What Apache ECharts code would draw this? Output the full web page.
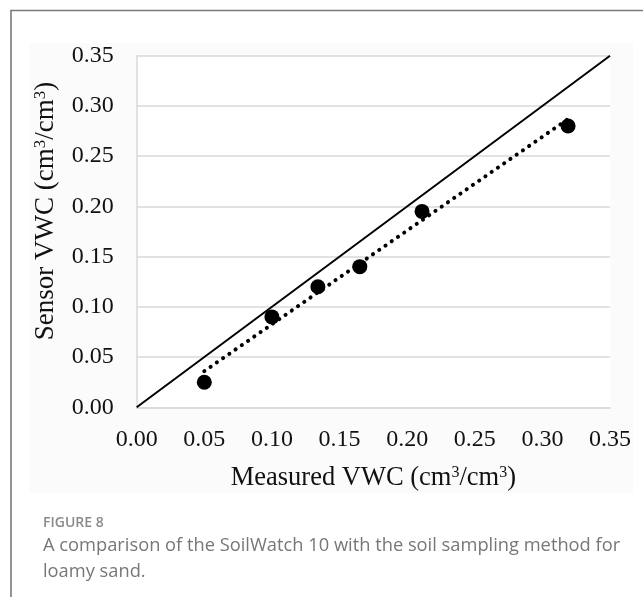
<!DOCTYPE html>
<html>
<head>
<meta charset="utf-8">
<script src="https://cdn.jsdelivr.net/npm/echarts@6/dist/echarts.min.js"></script>
<style>
  html, body { margin: 0; padding: 0; background: #fff; }
  #main { width: 643px; height: 597px; }
</style>
</head>
<body>
<div id="main"></div>
<script>
// measured vs sensor VWC (cm3/cm3)
var measuredVWC = [0.050, 0.100, 0.134, 0.165, 0.211, 0.319];
var sensorVWC   = [0.025, 0.090, 0.120, 0.140, 0.195, 0.280];

// 1:1 line and the dotted linear trendline (end points)
var oneToOneX = [0, 0.35];
var oneToOneY = [0, 0.35];
var trendX = [0.050, 0.319];
var trendY = [0.036, 0.287];

var tickValues = [0, 0.05, 0.10, 0.15, 0.20, 0.25, 0.30, 0.35];

var xTitle = 'Measured VWC (cm{s|3}/cm{s|3})';
var yTitle = 'Sensor VWC (cm{s|3}/cm{s|3})';
var captionLabel = 'FIGURE 8';
var captionLines = [
    'A comparison of the SoilWatch 10 with the soil sampling method for',
    'loamy sand.'
];

function pairs(xs, ys) {
    var out = [];
    for (var i = 0; i < xs.length; i++) {
        out.push([xs[i], ys[i]]);
    }
    return out;
}

var serif = '"Liberation Serif", "Times New Roman", serif';
var supStyle = { fontFamily: serif, fontSize: 16, color: '#111', verticalAlign: 'top', lineHeight: 27 };

var dom = document.getElementById('main');
var chart = echarts.init(dom, null, { renderer: 'canvas' });

var option = {
    backgroundColor: '#fff',
    animation: false,
    graphic: [
        {
            type: 'rect', z: -10, silent: true,
            shape: { x: 29, y: 43, width: 604, height: 450 },
            style: { fill: '#fbfbfb' }
        },
        {
            type: 'polyline', silent: true,
            shape: { points: [[11, 597], [11, 10.5], [643, 10.5]] },
            style: { stroke: '#7a7a7a', lineWidth: 1.6, fill: null }
        },
        {
            // y title, placed like the original (a bit above the plot centre)
            type: 'text', x: 46, y: 211, rotation: Math.PI / 2, silent: true,
            style: {
                text: yTitle,
                fontFamily: serif,
                fontSize: 27,
                fill: '#111',
                align: 'center',
                verticalAlign: 'middle',
                rich: {
                    s: { fontFamily: serif, fontSize: 17, fill: '#111', verticalAlign: 'top', lineHeight: 28 }
                }
            }
        },
        {
            type: 'text', left: 43, top: 516,
            style: { text: captionLabel, font: '600 14px "Open Sans", sans-serif', fill: '#8a8a8a' }
        },
        {
            type: 'text', left: 43, top: 533,
            style: {
                text: captionLines.join('\n'),
                font: '18.3px "Open Sans", sans-serif',
                fill: '#777',
                lineHeight: 26
            }
        }
    ],
    grid: {
        left: 136.7,
        right: 33,
        top: 55.7,
        bottom: 189.7,
        outerBoundsMode: 'none',
        backgroundColor: '#fff',
        show: true,
        borderWidth: 0
    },
    xAxis: {
        type: 'value',
        min: 0,
        max: 0.35,
        interval: 0.05,
        name: xTitle,
        nameLocation: 'middle',
        nameGap: 57,
        nameTextStyle: {
            fontFamily: serif, fontSize: 26.5, color: '#111', lineHeight: 27,
            rich: { s: supStyle }
        },
        axisLine: { show: true, lineStyle: { color: '#d9d9d9', width: 1.5 } },
        axisTick: { show: false },
        splitLine: { show: false },
        axisLabel: {
            margin: 20,
            fontFamily: serif,
            fontSize: 24,
            color: '#111',
            formatter: function (v) { return v.toFixed(2); },
            customValues: tickValues
        }
    },
    yAxis: {
        type: 'value',
        min: 0,
        max: 0.35,
        interval: 0.05,
        axisLine: { show: true, lineStyle: { color: '#d9d9d9', width: 1.5 } },
        axisTick: { show: false },
        splitLine: { show: true, lineStyle: { color: '#d9d9d9', width: 1.5 } },
        axisLabel: {
            margin: 23,
            fontFamily: serif,
            fontSize: 24,
            color: '#111',
            formatter: function (v) { return v.toFixed(2); }
        }
    },
    series: [
        {
            name: '1:1',
            type: 'line',
            data: pairs(oneToOneX, oneToOneY),
            showSymbol: false,
            symbol: 'none',
            lineStyle: { color: '#000', width: 2 },
            z: 2
        },
        {
            name: 'trend',
            type: 'line',
            data: pairs(trendX, trendY),
            showSymbol: false,
            symbol: 'none',
            lineStyle: { color: '#000', width: 4, type: [0.1, 7.5], cap: 'round' },
            z: 3
        },
        {
            name: 'VWC',
            type: 'scatter',
            data: pairs(measuredVWC, sensorVWC),
            symbol: 'circle',
            symbolSize: 15,
            itemStyle: { color: '#000', opacity: 1 },
            z: 4
        }
    ]
};

if (option && typeof option === 'object') {
    chart.setOption(option);
}
</script>
</body>
</html>
